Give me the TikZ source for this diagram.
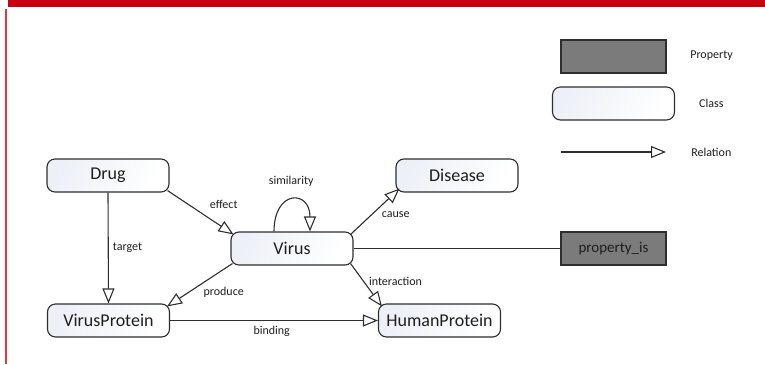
\documentclass[tikz,border=0pt]{standalone}
\usepackage{fontspec}
\setmainfont{Carlito}
\usetikzlibrary{arrows.meta,calc}
\definecolor{barred}{HTML}{C8000F}
\definecolor{siderule}{HTML}{E23A3A}
\definecolor{edgegray}{HTML}{2E2E2E}
\definecolor{classtint}{HTML}{EDF0F7}
\definecolor{propfill}{HTML}{7B7B7B}
\definecolor{inkgray}{HTML}{1E1E1E}
\begin{document}
\begin{tikzpicture}[x=1pt,y=-1pt,
  classbox/.style={draw=edgegray, line width=1.1pt, rounded corners=8pt,
    top color=classtint, bottom color=white, shading angle=60,
    minimum width=122pt, minimum height=33pt, inner sep=0pt,
    font=\fontsize{18}{20}\selectfont, text=inkgray},
  propbox/.style={draw=edgegray, line width=1.1pt, fill=propfill,
    minimum width=105pt, minimum height=33pt, inner sep=0pt,
    font=\fontsize{15}{18}\selectfont, text=inkgray},
  rel/.style={draw=edgegray, line width=1.1pt,
    -{Triangle[open, length=15pt, width=12pt, line width=1.1pt]}},
  link/.style={draw=edgegray, line width=1.1pt},
  lbl/.style={font=\fontsize{12}{14}\selectfont, text=inkgray, inner sep=0pt},
]
\useasboundingbox (0,0) rectangle (765,364);

% page frame
\fill[barred] (8,0) rectangle (765,7);
\draw[siderule, line width=1.3pt] (6,9) -- (6,364);

% classes and property
\node[classbox] (drug) at (108,175.5) {Drug};
\node[classbox] (virus) at (292,248.5) {Virus};
\node[classbox] (vprot) at (108.5,320.5) {VirusProtein};
\node[classbox] (disease) at (457,175.5) {Disease};
\node[classbox] (hprot) at (439.5,320.5) {HumanProtein};
\node[propbox] (prop) at (613.5,248.5) {property\_is};

% relations
\draw[rel] (drug.south) -- (vprot.north);
\draw[rel] ($(drug.south east)+(-2,-2)$) -- ($(virus.north west)+(3,3)$);
\draw[rel] ($(virus.south west)+(2,-2)$) -- ($(vprot.north east)+(-3,3)$);
\draw[rel] ($(virus.north east)+(-3,3)$) -- ($(disease.south west)+(4,-4)$);
\draw[rel] ($(virus.south east)+(-3,-2)$) -- ($(hprot.north west)+(4,3)$);
\draw[rel] (vprot.east) -- (hprot.west);
\draw[rel] ($(virus.north)+(-18,0)$) .. controls ($(virus.north)+(-18,-42)$) and ($(virus.north)+(18,-42)$) .. ($(virus.north)+(18,0)$);
\draw[link] (virus.east) -- (prop.west);

% relation labels
\node[lbl] (l-target) at (127.5,247.7) {target};
\node[lbl] (l-effect) at (223.7,204) {effect};
\node[lbl] (l-sim) at (291.2,181) {similarity};
\node[lbl] (l-produce) at (223.7,292.7) {produce};
\node[lbl] (l-binding) at (271.7,331.7) {binding};
\node[lbl] (l-cause) at (395.8,215) {cause};
\node[lbl] (l-inter) at (395.5,281) {interaction};

% legend
\node[propbox] (key-prop) at (613.5,56.5) {};
\node[lbl] (key-prop-t) at (711.5,56) {Property};
\node[classbox] (key-class) at (613.5,103.5) {};
\node[lbl] (key-class-t) at (711.3,103.3) {Class};
\coordinate (key-rel-a) at (561,152);
\coordinate (key-rel-b) at (666,152);
\draw[rel] (key-rel-a) -- (key-rel-b);
\node[lbl] (key-rel-t) at (711.3,152.7) {Relation};
\end{tikzpicture}
\end{document}
